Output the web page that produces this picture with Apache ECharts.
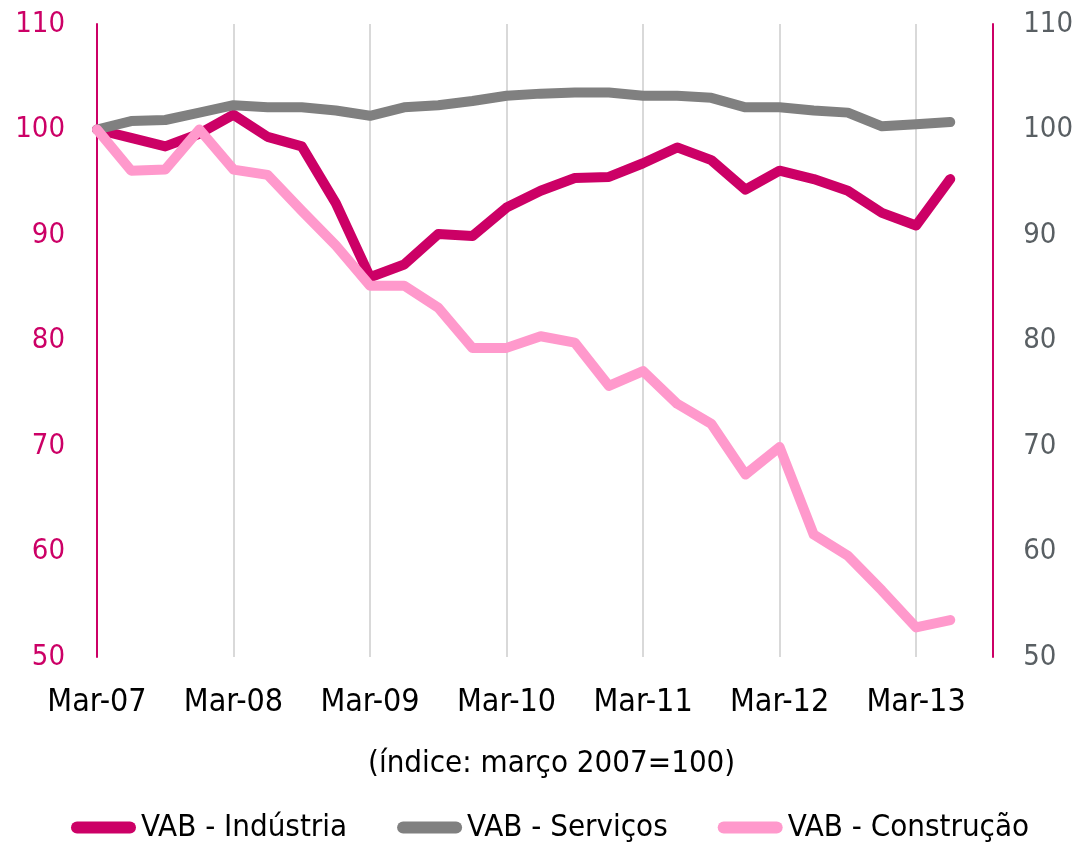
<!DOCTYPE html>
<html>
<head>
<meta charset="utf-8">
<title>VAB</title>
<script src="https://cdn.jsdelivr.net/npm/echarts@6/dist/echarts.min.js"></script>
<style>
  html, body { margin: 0; padding: 0; background: #fff; }
  #chart { width: 1076px; height: 843px; }
</style>
</head>
<body>
<div id="chart"></div>
<script>
// trimestres (Mar-07 .. Jun-13)
const quarters = [
  'Mar-07', 'Jun-07', 'Sep-07', 'Dec-07',
  'Mar-08', 'Jun-08', 'Sep-08', 'Dec-08',
  'Mar-09', 'Jun-09', 'Sep-09', 'Dec-09',
  'Mar-10', 'Jun-10', 'Sep-10', 'Dec-10',
  'Mar-11', 'Jun-11', 'Sep-11', 'Dec-11',
  'Mar-12', 'Jun-12', 'Sep-12', 'Dec-12',
  'Mar-13', 'Jun-13'
]
const industria = [100, 99.2, 98.4, 99.6, 101.4, 99.3, 98.4, 93.0, 86.0, 87.2, 90.1, 89.9, 92.6,
  94.2, 95.4, 95.5, 96.8, 98.3, 97.1, 94.3, 96.1, 95.3, 94.2, 92.1, 90.9, 95.3]
const servicos = [100, 100.8, 100.9, 101.6, 102.3, 102.1, 102.1, 101.8, 101.3, 102.1, 102.3, 102.7, 103.2,
  103.4, 103.5, 103.5, 103.2, 103.2, 103.0, 102.1, 102.1, 101.8, 101.6, 100.3, 100.5, 100.7]
const construcao = [100, 96.1, 96.2, 100, 96.2, 95.7, 92.3, 89.0, 85.2, 85.2, 83.1, 79.3, 79.3,
  80.4, 79.8, 75.7, 77.1, 74.0, 72.1, 67.3, 69.9, 61.6, 59.6, 56.3, 52.8, 53.5]

const names = ['VAB - Indústria', 'VAB - Serviços', 'VAB - Construção']
const colors = ['#CC0066', '#808080', '#FF99CC']

const FONT = '"DejaVu Sans Condensed", "DejaVu Sans", sans-serif'
const capsule = 'path://M6,0 L59,0 A6,6 0 0 1 59,12 L6,12 A6,6 0 0 1 6,0 Z'

const chart = echarts.init(document.getElementById('chart'))

function lineSeries (name, data, color) {
  return {
    name: name,
    type: 'line',
    data: data,
    yAxisIndex: 0,
    symbol: 'none',
    smooth: false,
    color: color,
    lineStyle: { color: color, width: 10, cap: 'round', join: 'round' }
  }
}

const option = {
  animation: false,
  textStyle: { fontFamily: FONT },
  grid: { left: 97, right: 124, top: 24, bottom: 186 },
  legend: {
    data: names.map(n => ({ name: n, icon: capsule })),
    left: 66,
    top: 807,
    itemWidth: 65,
    itemHeight: 12,
    itemGap: 50,
    textStyle: { fontSize: 31, color: '#000', fontFamily: FONT }
  },
  graphic: [{
    type: 'text',
    left: 368,
    top: 748,
    style: { text: '(índice: março 2007=100)', fontSize: 31, fill: '#000', fontFamily: FONT }
  }],
  xAxis: {
    type: 'category',
    data: quarters,
    boundaryGap: false,
    axisLine: { show: false },
    axisTick: { show: false },
    axisLabel: { interval: 3, fontSize: 32, color: '#000', margin: 30, fontFamily: FONT },
    splitLine: { show: true, interval: 3, lineStyle: { color: '#D9D9D9', width: 2 } }
  },
  yAxis: [
    {
      type: 'value',
      min: 50,
      max: 110,
      interval: 10,
      position: 'left',
      axisLine: { show: true, lineStyle: { color: '#CC0066', width: 2 } },
      axisTick: { show: false },
      splitLine: { show: false },
      axisLabel: { fontSize: 29, color: '#CC0066', margin: 32, fontFamily: FONT }
    },
    {
      type: 'value',
      min: 50,
      max: 110,
      interval: 10,
      position: 'right',
      offset: 43,
      axisLine: { show: true, lineStyle: { color: '#CC0066', width: 2 } },
      axisTick: { show: false },
      splitLine: { show: false },
      axisLabel: { fontSize: 29, color: '#595F63', margin: 30, fontFamily: FONT }
    }
  ],
  series: [
    lineSeries(names[0], industria, colors[0]),
    lineSeries(names[1], servicos, colors[1]),
    lineSeries(names[2], construcao, colors[2])
  ]
}

chart.setOption(option)
</script>
</body>
</html>
